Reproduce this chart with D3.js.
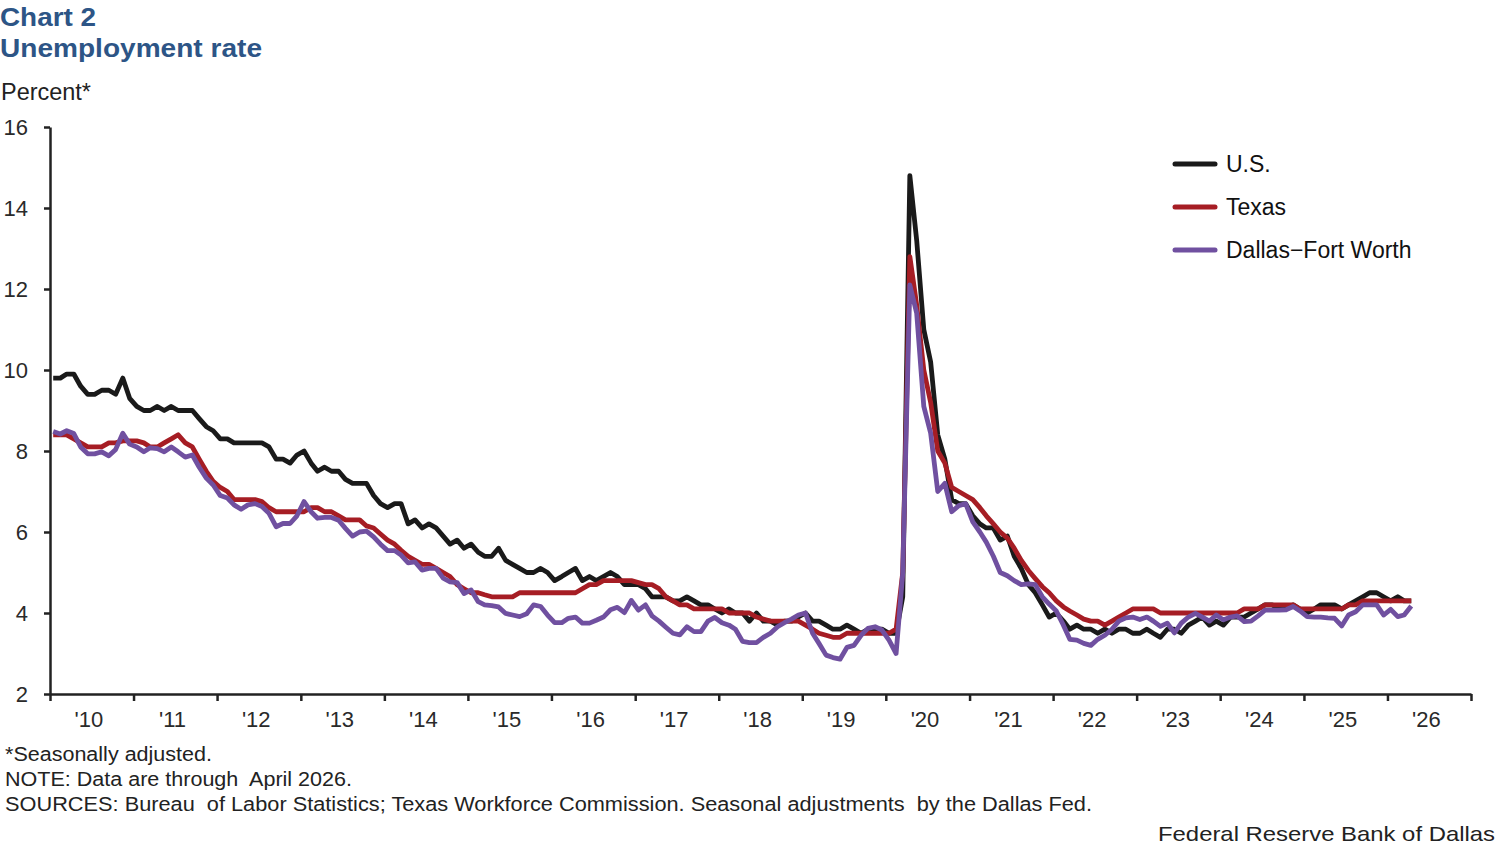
<!DOCTYPE html>
<html>
<head>
<meta charset="utf-8">
<script src="https://cdn.jsdelivr.net/npm/d3@7"></script>
<style>
  body { margin: 0; background: #fff; }
  text { font-family: "Liberation Sans", Arial, sans-serif; }
</style>
</head>
<body>
<div id="chart"></div>
<script>

// Données mensuelles, janvier 2010 à avril 2026 (taux de chômage, %)

const usRate = [
    9.8, 9.8, 9.9, 9.9, 9.6, 9.4, 9.4, 9.5, 9.5, 9.4, 9.8, 9.3,
    9.1, 9.0, 9.0, 9.1, 9.0, 9.1, 9.0, 9.0, 9.0, 8.8, 8.6, 8.5,
    8.3, 8.3, 8.2, 8.2, 8.2, 8.2, 8.2, 8.1, 7.8, 7.8, 7.7, 7.9,
    8.0, 7.7, 7.5, 7.6, 7.5, 7.5, 7.3, 7.2, 7.2, 7.2, 6.9, 6.7,
    6.6, 6.7, 6.7, 6.2, 6.3, 6.1, 6.2, 6.1, 5.9, 5.7, 5.8, 5.6,
    5.7, 5.5, 5.4, 5.4, 5.6, 5.3, 5.2, 5.1, 5.0, 5.0, 5.1, 5.0,
    4.8, 4.9, 5.0, 5.1, 4.8, 4.9, 4.8, 4.9, 5.0, 4.9, 4.7, 4.7,
    4.7, 4.6, 4.4, 4.4, 4.4, 4.3, 4.3, 4.4, 4.3, 4.2, 4.2, 4.1,
    4.0, 4.1, 4.0, 4.0, 3.8, 4.0, 3.8, 3.8, 3.7, 3.8, 3.8, 3.9,
    4.0, 3.8, 3.8, 3.7, 3.6, 3.6, 3.7, 3.6, 3.5, 3.6, 3.6, 3.6,
    3.5, 3.5, 4.4, 14.8, 13.2, 11.0, 10.2, 8.4, 7.8, 6.8, 6.7, 6.7,
    6.4, 6.2, 6.1, 6.1, 5.8, 5.9, 5.4, 5.1, 4.7, 4.5, 4.2, 3.9,
    4.0, 3.8, 3.6, 3.7, 3.6, 3.6, 3.5, 3.6, 3.5, 3.6, 3.6, 3.5,
    3.5, 3.6, 3.5, 3.4, 3.6, 3.6, 3.5, 3.7, 3.8, 3.9, 3.7, 3.8,
    3.7, 3.9, 3.9, 3.9, 4.0, 4.1, 4.2, 4.2, 4.1, 4.1, 4.2, 4.1,
    4.0, 4.1, 4.2, 4.2, 4.2, 4.1, 4.2, 4.3, 4.4, 4.5, 4.5, 4.4,
    4.3, 4.4, 4.3, 4.3
];

const texasRate = [
    8.4, 8.4, 8.4, 8.3, 8.2, 8.1, 8.1, 8.1, 8.2, 8.2, 8.25, 8.25,
    8.25, 8.2, 8.1, 8.1, 8.2, 8.3, 8.4, 8.2, 8.1, 7.8, 7.5, 7.25,
    7.1, 7.0, 6.8, 6.8, 6.8, 6.8, 6.75, 6.6, 6.5, 6.5, 6.5, 6.5,
    6.5, 6.6, 6.6, 6.5, 6.5, 6.4, 6.3, 6.3, 6.3, 6.15, 6.1, 5.95,
    5.8, 5.7, 5.55, 5.4, 5.3, 5.2, 5.2, 5.1, 5.0, 4.9, 4.7, 4.6,
    4.5, 4.5, 4.45, 4.4, 4.4, 4.4, 4.4, 4.5, 4.5, 4.5, 4.5, 4.5,
    4.5, 4.5, 4.5, 4.5, 4.6, 4.7, 4.7, 4.8, 4.8, 4.8, 4.8, 4.8,
    4.75, 4.7, 4.7, 4.6, 4.4, 4.3, 4.2, 4.2, 4.1, 4.1, 4.1, 4.1,
    4.1, 4.0, 4.0, 4.0, 4.0, 3.9, 3.85, 3.8, 3.8, 3.8, 3.8, 3.8,
    3.7, 3.6, 3.5, 3.45, 3.4, 3.4, 3.5, 3.5, 3.5, 3.5, 3.5, 3.5,
    3.5, 3.6, 5.0, 12.8, 11.6, 10.0, 9.2, 8.0, 7.7, 7.1, 7.0, 6.9,
    6.8, 6.6, 6.4, 6.2, 6.0, 5.85, 5.6, 5.3, 5.05, 4.85, 4.65, 4.5,
    4.3, 4.15, 4.05, 3.95, 3.85, 3.8, 3.8, 3.7, 3.8, 3.9, 4.0, 4.1,
    4.1, 4.1, 4.1, 4.0, 4.0, 4.0, 4.0, 4.0, 4.0, 4.0, 4.0, 4.0,
    4.0, 4.0, 4.0, 4.1, 4.1, 4.1, 4.2, 4.2, 4.2, 4.2, 4.2, 4.1,
    4.1, 4.1, 4.1, 4.1, 4.1, 4.1, 4.2, 4.2, 4.3, 4.3, 4.3, 4.3,
    4.3, 4.3, 4.3, 4.3
];

const dfwRate = [
    8.48, 8.42, 8.5, 8.43, 8.1, 7.93, 7.93, 7.98, 7.88, 8.04, 8.44, 8.17,
    8.1, 7.98, 8.08, 8.06, 7.98, 8.1, 7.98, 7.85, 7.9, 7.6, 7.33, 7.16,
    6.9, 6.84, 6.67, 6.56, 6.67, 6.7, 6.63, 6.46, 6.13, 6.21, 6.21, 6.4,
    6.75, 6.5, 6.34, 6.36, 6.36, 6.29, 6.09, 5.9, 6.0, 6.02, 5.88, 5.7,
    5.54, 5.54, 5.43, 5.24, 5.26, 5.06, 5.1, 5.1, 4.86, 4.77, 4.75, 4.48,
    4.57, 4.28, 4.2, 4.18, 4.15, 3.99, 3.95, 3.91, 3.98, 4.2, 4.16, 3.95,
    3.76, 3.76, 3.87, 3.9, 3.75, 3.75, 3.82, 3.9, 4.08, 4.14, 4.01, 4.31,
    4.07, 4.2, 3.93, 3.8, 3.65, 3.5, 3.46, 3.66, 3.54, 3.54, 3.8, 3.89,
    3.76, 3.7, 3.6, 3.3, 3.27, 3.27, 3.4, 3.5, 3.66, 3.76, 3.85, 3.95,
    4.0, 3.5, 3.25, 2.96, 2.9, 2.86, 3.15, 3.2, 3.45, 3.62, 3.66, 3.58,
    3.33, 3.0, 4.98, 12.1, 11.4, 9.1, 8.44, 7.0, 7.2, 6.5, 6.65, 6.7,
    6.25, 6.0, 5.75, 5.4, 5.0, 4.92, 4.8, 4.7, 4.72, 4.7, 4.4, 4.22,
    4.05, 3.7, 3.35, 3.33, 3.25, 3.2, 3.35, 3.45, 3.6, 3.8, 3.88, 3.9,
    3.84, 3.9, 3.8, 3.67, 3.75, 3.51, 3.75, 3.9, 3.99, 3.9, 3.8, 3.95,
    3.83, 3.9, 3.93, 3.79, 3.8, 3.93, 4.07, 4.07, 4.07, 4.08, 4.16, 4.05,
    3.91, 3.9, 3.9, 3.88, 3.87, 3.68, 3.95, 4.03, 4.2, 4.2, 4.2, 3.95,
    4.09, 3.91, 3.95, 4.17
];

const yTicks = [2, 4, 6, 8, 10, 12, 14, 16];
const yearTicks = d3.range(2010, 2028);
const yearLabels = d3.range(2010, 2027);

const seriesInfo = [
    { "label": "U.S.", "col": "#1a1a1a", "values": usRate },
    { "label": "Texas", "col": "#a61d24", "values": texasRate },
    { "label": "Dallas\u2212Fort Worth", "col": "#7050a0", "values": dfwRate }
];

// Mois (milieu de mois)
const months = d3.timeMonth.range(new Date(2010, 0, 1), new Date(2026, 4, 1))
    .map(d => d3.timeDay.offset(d, 14));

// Canevas SVG

const width = 1497;
const height = 848;
const plotLeft = 50;
const plotRight = 1471;
const plotTop = 127;
const plotBottom = 694;
const ink = "#222";

const svg = d3.select("#chart")
    .append("svg")
    .attr("width", width)
    .attr("height", height);

// Titre

svg.append("text")
    .attr("x", 0)
    .attr("y", 26)
    .attr("font-size", "26px")
    .attr("font-weight", "bold")
    .attr("fill", "#2d5586")
    .attr("textLength", 96)
    .attr("lengthAdjust", "spacingAndGlyphs")
    .text("Chart 2");

svg.append("text")
    .attr("x", 0)
    .attr("y", 57)
    .attr("font-size", "26px")
    .attr("font-weight", "bold")
    .attr("fill", "#2d5586")
    .attr("textLength", 262)
    .attr("lengthAdjust", "spacingAndGlyphs")
    .text("Unemployment rate");

svg.append("text")
    .attr("x", 1)
    .attr("y", 100)
    .attr("font-size", "23px")
    .attr("fill", ink)
    .attr("textLength", 90)
    .attr("lengthAdjust", "spacingAndGlyphs")
    .text("Percent*");

// Échelles

const scaleX = d3.scaleTime()
    .domain([new Date(2010, 0, 1), new Date(2027, 0, 1)])
    .range([plotLeft, plotRight]);

const scaleY = d3.scaleLinear()
    .domain([2, 16])
    .range([plotBottom, plotTop]);

// Axes

const yAxis = g => g
    .attr("transform", `translate(${plotLeft}, 0)`)
    .call(d3.axisLeft(scaleY)
        .tickValues(yTicks)
        .tickSize(6)
        .tickSizeOuter(0)
        .tickPadding(16))
    .call(g => g.selectAll("text")
        .attr("font-size", "22px")
        .attr("fill", "#2a2a2a")
        .attr("font-family", "Liberation Sans, Arial, sans-serif"));

const xAxis = g => g
    .attr("transform", `translate(0, ${plotBottom})`)
    .call(d3.axisBottom(scaleX)
        .tickValues(yearTicks.map(y => new Date(y, 0, 1)))
        .tickSize(7)
        .tickSizeOuter(0)
        .tickFormat(""));

const xLabels = g => g
    .attr("transform", `translate(0, ${plotBottom})`)
    .call(d3.axisBottom(scaleX)
        .tickValues(yearLabels.map(y => new Date(y, 6, 1)))
        .tickSize(0)
        .tickPadding(17)
        .tickFormat(d => "'" + d3.timeFormat("%y")(d)))
    .call(g => g.select(".domain").remove())
    .call(g => g.selectAll("text")
        .attr("dx", -3)
        .attr("font-size", "22px")
        .attr("fill", "#2a2a2a")
        .attr("font-family", "Liberation Sans, Arial, sans-serif"));

svg.append("g").call(xLabels);

// Courbes

const line = d3.line()
    .x((d, i) => scaleX(months[i]))
    .y(d => scaleY(d));

svg.append("g")
    .selectAll("path")
    .data(seriesInfo)
    .join("path")
    .attr("d", d => line(d.values))
    .attr("fill", "none")
    .attr("stroke", d => d.col)
    .attr("stroke-width", 4.8)
    .attr("stroke-linejoin", "round");

svg.append("g").call(xAxis)
    .call(g => g.selectAll("line, path").attr("stroke", ink).attr("stroke-width", 2.5));

svg.append("g").call(yAxis)
    .call(g => g.selectAll("line, path").attr("stroke", ink).attr("stroke-width", 2.5));

// Légende

const legend = svg.selectAll(".legend")
    .data(seriesInfo)
    .join("g")
    .attr("class", "legend")
    .attr("transform", (d, i) => `translate(1175, ${164 + i * 43})`);

legend.append("line")
    .attr("x1", 0)
    .attr("x2", 40)
    .attr("stroke", d => d.col)
    .attr("stroke-width", 5)
    .attr("stroke-linecap", "round");

legend.append("text")
    .attr("x", 51)
    .attr("y", 8)
    .attr("font-size", "23px")
    .attr("fill", "#111")
    .text(d => d.label);

// Notes

const notes = [
    { "t": "*Seasonally adjusted.", "w": 207 },
    { "t": "NOTE: Data are through  April 2026.", "w": 347 },
    { "t": "SOURCES: Bureau  of Labor Statistics; Texas Workforce Commission. Seasonal adjustments  by the Dallas Fed.", "w": 1087 }
];

svg.selectAll(".note")
    .data(notes)
    .join("text")
    .attr("class", "note")
    .attr("x", 5)
    .attr("y", (d, i) => 761 + i * 25)
    .attr("font-size", "20px")
    .attr("fill", ink)
    .attr("textLength", d => d.w)
    .attr("lengthAdjust", "spacingAndGlyphs")
    .attr("xml:space", "preserve")
    .text(d => d.t);

svg.append("text")
    .attr("x", 1495)
    .attr("y", 841)
    .attr("text-anchor", "end")
    .attr("font-size", "21px")
    .attr("fill", ink)
    .attr("font-family", "DejaVu Sans, sans-serif")
    .attr("font-weight", "300")
    .attr("textLength", 337)
    .attr("lengthAdjust", "spacingAndGlyphs")
    .text("Federal Reserve Bank of Dallas");

</script>
</body>
</html>
